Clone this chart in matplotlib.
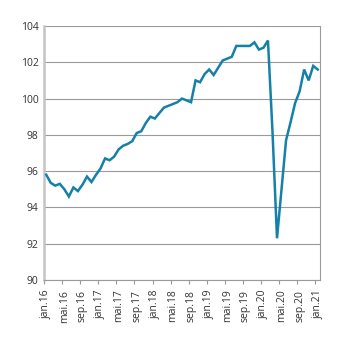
import numpy as np
import matplotlib.pyplot as plt

# Monthly index, jan.16 - jan.21
values = [
    95.8, 95.35, 95.2, 95.3, 95.0, 94.6, 95.1, 94.9, 95.25, 95.7, 95.4, 95.8,
    96.15, 96.7, 96.6, 96.8, 97.2, 97.4, 97.5, 97.65, 98.1, 98.2, 98.65, 99.0,
    98.9, 99.2, 99.5, 99.6, 99.7, 99.8, 100.0, 99.9, 99.8, 101.0, 100.9, 101.35,
    101.6, 101.3, 101.7, 102.1, 102.2, 102.3, 102.9, 102.9, 102.9, 102.9, 103.1, 102.7,
    102.8, 103.2, 98.2, 92.3, 95.0, 97.7, 98.7, 99.75, 100.4, 101.6, 101.0, 101.8,
    101.6,
]
months = ["jan", "feb", "mar", "apr", "mai", "jun", "jul", "aug", "sep", "okt", "nov", "des"]
labels = [f"{months[i % 12]}.{16 + i // 12}" for i in range(len(values))]
label_step = 4

line_color = "#1580a8"
grid_color = "#9a9a9a"
text_color = "#333333"

fig = plt.figure(figsize=(3.45, 3.41), dpi=100)
ax = fig.add_axes([0.1275, 0.1789, 0.80, 0.7449])

x = np.arange(len(values))
ax.plot(x, values, color=line_color, lw=1.8, solid_joinstyle="miter", zorder=3)

ax.set_xlim(-0.5, len(values) - 0.5)
ax.set_ylim(90, 104)
ax.set_yticks(np.arange(90, 105, 2))
ax.yaxis.grid(True, color=grid_color, lw=0.8)
ax.set_axisbelow(True)

# labels sit at the month centres, tick marks at the month boundaries
ax.set_xticks(x[::label_step])
ax.set_xticklabels(labels[::label_step], rotation=90)
ax.set_xticks(x[::label_step] - 0.5, minor=True)
ax.tick_params(axis="x", which="major", length=0, pad=7, labelsize=7.5, labelcolor=text_color)
ax.tick_params(axis="x", which="minor", length=3, width=0.8, color=grid_color)
ax.tick_params(axis="y", length=0, pad=4, labelsize=7.5, labelcolor=text_color)

for lbl in ax.get_xticklabels() + ax.get_yticklabels():
    lbl.set_fontfamily("Open Sans")

ax.spines["top"].set_visible(False)
ax.spines["left"].set_color("#c4c4c4")
ax.spines["left"].set_linewidth(1.8)
ax.spines["right"].set_color(grid_color)
ax.spines["right"].set_linewidth(0.8)
ax.spines["bottom"].set_color(grid_color)
ax.spines["bottom"].set_linewidth(0.8)

fig.savefig("out.png", dpi=100)
